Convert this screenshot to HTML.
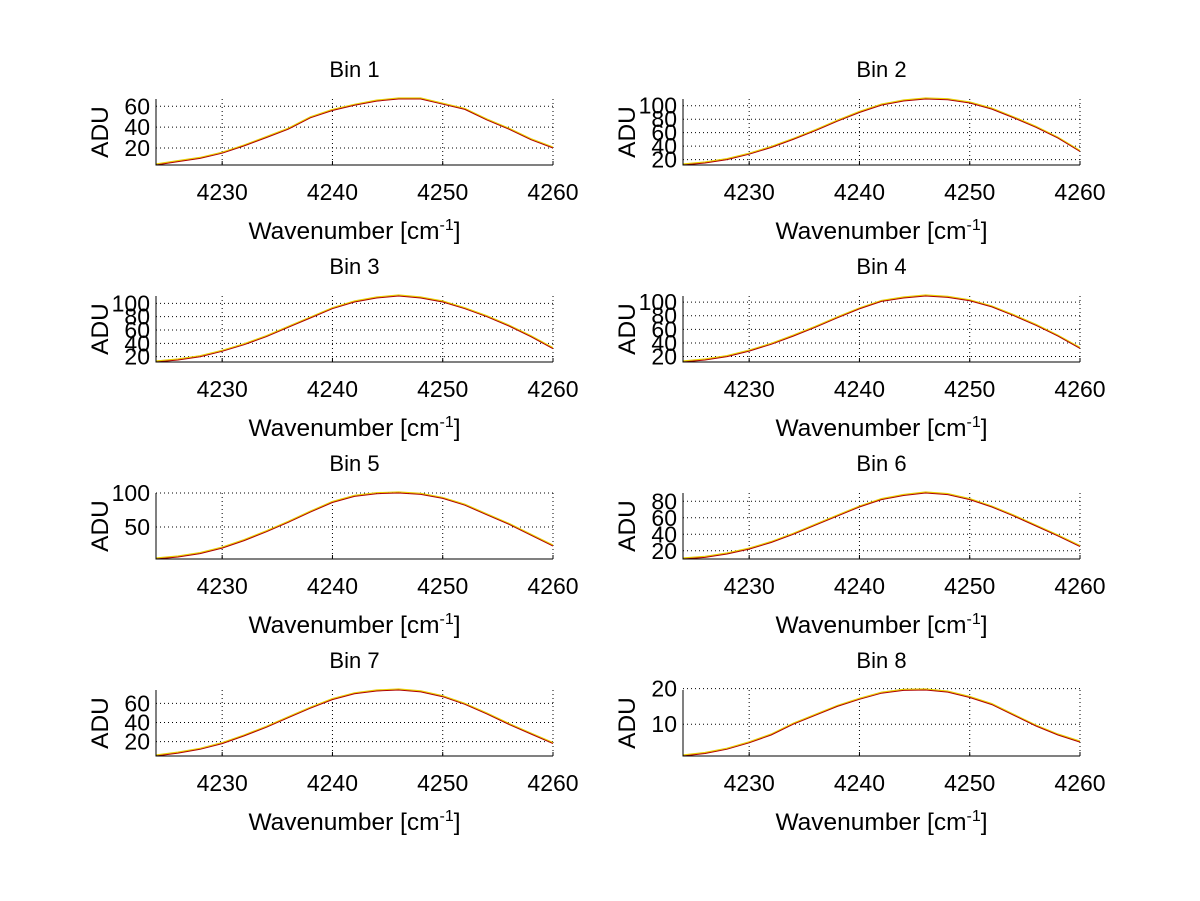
<!DOCTYPE html>
<html><head><meta charset="utf-8"><style>
body{margin:0;background:#fff}
svg{display:block;font-family:"Liberation Sans",sans-serif}
</style></head><body>
<svg id="fig" width="1200" height="901" viewBox="0 0 1200 901"></svg>
<script>
const xs = [4224,4226,4228,4230,4232,4234,4236,4238,4240,4242,4244,4246,4248,4250,4252,4254,4256,4258,4260];
const bin1 = [3.7,7,10,15,22,30,38,49,56,61,65,67,67,62,57,47,38,28,20];
const bin2 = [12,15,20,28,38,50,63,77,90,101,107,110,109,104,95,82,68,52,32];
const bin3 = [12,15,20,28,38,50,64,78,92,102,108,111,108,102,92,80,66,50,32];
const bin4 = [12,15,20,28,38,50,63,77,90,101,106,109,107,102,93,80,66,50,32];
const bin5 = [3,6,11,19,30,43,57,72,86,95,99,100,98,92,82,68,54,38,22];
const bin6 = [10,12,16,22,30,40,51,62,73,82,87,90,88,82,73,62,50,38,25];
const bin7 = [5,8,12,18,26,35,45,55,64,70,73,74,72,67,59,49,38,28,18];
const bin8 = [1.1,1.8,3,4.8,7,10,12.5,15,17,18.7,19.5,19.6,19,17.5,15.5,12.5,9.5,7,5];
const series = [bin1,bin2,bin3,bin4,bin5,bin6,bin7,bin8];
const yticks = [[20,40,60],[20,40,60,80,100],[20,40,60,80,100],[20,40,60,80,100],[50,100],[20,40,60,80],[20,40,60],[10,20]];
const xticks = [4230,4240,4250,4260];
const xmin=4224, xmax=4260;
const NS='http://www.w3.org/2000/svg';
const svg=document.getElementById('fig');
function mk(tag,attrs,parent){const e=document.createElementNS(NS,tag);for(const k in attrs)e.setAttribute(k,attrs[k]);(parent||svg).appendChild(e);return e;}
series.forEach((d,i)=>{
  const col=i%2,row=Math.floor(i/2);
  const L=col?683:156,R=col?1080:553,T=99+row*197,B=165+row*197;
  const ymin=Math.min(...d),ymax=Math.max(...d);
  const sx=v=>L+(v-xmin)/(xmax-xmin)*(R-L);
  const sy=v=>B-(v-ymin)/(ymax-ymin)*(B-T);
  const g=mk('g',{});
  
  
  xticks.forEach(t=>{
    const gl=mk('line',{x1:sx(t),x2:sx(t),y1:T,y2:B,stroke:'#000','stroke-width':1,'stroke-dasharray':'1,3'},g);
    
    
    const tk=mk('line',{x1:sx(t),x2:sx(t),y1:B,y2:B-4,stroke:'#000'},g);
    
    
    const tl=mk('text',{x:sx(t),y:B+35,'font-size':23,'text-anchor':'middle'},g);
    tl.textContent=t;
    
    
  });
  yticks[i].forEach(t=>{
    const y=sy(t);
    const gl=mk('line',{x1:L,x2:R,y1:y,y2:y,stroke:'#000','stroke-width':1,'stroke-dasharray':'1,3'},g);
    
    
    const tl=mk('text',{x:L-6,y:y+8,'font-size':23,'text-anchor':'end'},g);
    tl.textContent=t;
    
    
  });
  const pts=xs.map((x,j)=>sx(x).toFixed(1)+','+sy(d[j]).toFixed(1)).join(' ');
  const l1=mk('polyline',{points:xs.map((x,j)=>sx(x).toFixed(1)+','+(sy(d[j])-1).toFixed(1)).join(' '),fill:'none',stroke:'#e8d000','stroke-width':1.2},g);
  
  
  const l2=mk('polyline',{points:pts,fill:'none',stroke:'#b00000','stroke-width':1},g);
  
  
  const ax=mk('path',{d:`M${L},${T}V${B}H${R}`,fill:'none',stroke:'#000'},g);
  
  
  const tt=mk('text',{x:(L+R)/2,y:T-22,'font-size':22,'text-anchor':'middle'},g);
  tt.textContent='Bin '+(i+1);
  
  
  const xl=mk('text',{x:(L+R)/2,y:B+74,'font-size':24.5,'text-anchor':'middle'},g);
  xl.innerHTML='Wavenumber [cm<tspan dy="-9" font-size="16">-1</tspan><tspan dy="9">]</tspan>';
  
  
  const yl=mk('text',{x:0,y:0,'font-size':24.5,'text-anchor':'middle',transform:`translate(${L-48},${(T+B)/2}) rotate(-90)`},g);
  yl.textContent='ADU';
  
  
});
</script>
</body></html>
